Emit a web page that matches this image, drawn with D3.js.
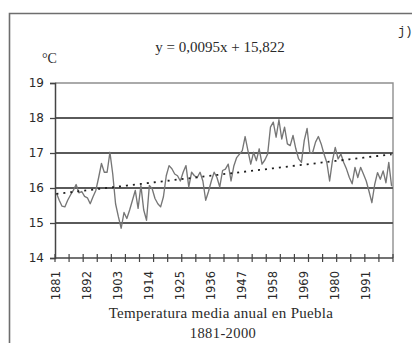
<!DOCTYPE html>
<html>
<head>
<meta charset="utf-8">
<script src="https://cdn.jsdelivr.net/npm/d3@7"></script>
<style>
  html, body { margin: 0; padding: 0; background: #fff; }
  svg { display: block; }
</style>
</head>
<body>
<svg id="chart" width="412" height="343"></svg>
<script>
// Annual mean temperature in Puebla, 1881-2000 (°C)
const years = d3.range(1881, 2001);
const temps = [
  15.86, 15.65, 15.48, 15.46, 15.65, 15.80, 15.93, 16.10, 15.86, 15.90,
  15.76, 15.72, 15.55, 15.75, 15.93, 16.30, 16.70, 16.45, 16.45, 17.02,
  16.40, 15.55, 15.18, 14.85, 15.30, 15.13, 15.37, 15.65, 15.93, 15.42,
  16.07, 15.37, 15.08, 16.07, 15.98, 15.70, 15.55, 15.46, 15.75, 16.35,
  16.64, 16.55, 16.40, 16.35, 16.20, 16.45, 16.64, 16.03, 16.45, 16.35,
  16.30, 16.45, 16.20, 15.65, 15.90, 16.20, 16.45, 16.30, 16.03, 16.50,
  16.54, 16.68, 16.20, 16.63, 16.87, 16.97, 17.07, 17.47, 17.07, 16.68,
  17.02, 16.78, 17.12, 16.68, 16.80, 16.97, 17.74, 17.88, 17.45, 17.95,
  17.40, 17.74, 17.26, 17.21, 17.50, 17.12, 16.83, 16.73, 17.36, 17.70,
  16.99, 17.02, 17.31, 17.47, 17.26, 16.97, 16.73, 16.20, 16.78, 17.16,
  16.83, 16.97, 16.73, 16.54, 16.30, 16.12, 16.59, 16.30, 16.59, 16.40,
  16.20, 15.90, 15.58, 16.10, 16.44, 16.25, 16.49, 16.15, 16.73, 16.05
];
const yTicks = [14, 15, 16, 17, 18, 19];
const yearLabels = years.filter((y, i) => i % 11 === 0 && y <= 1991);
// Linear trend as reported: y = 0,0095x + 15,822 (x = 1 for 1881)
const trendSlope = 0.0095;
const trendIntercept = 15.822;

const svg = d3.select("#chart");
const plot = { left: 55, right: 393, top: 83, bottom: 258 };

const x = d3.scaleBand().domain(years).range([plot.left, plot.right]).padding(0);
const y = d3.scaleLinear().domain([14, 19]).range([plot.bottom, plot.top]);
const cx = yr => x(yr) + x.bandwidth() / 2;

// outer frame (runs past the right and bottom edges)
svg.append("path")
  .attr("d", "M9.5,420 V13.5 H430")
  .attr("fill", "none").attr("stroke", "#6e6e6e").attr("stroke-width", 1.6);

// top and right plot border
svg.append("path")
  .attr("d", `M${plot.left},${y(19)} H${plot.right} V${plot.bottom}`)
  .attr("fill", "none").attr("stroke", "#8f8f8f").attr("stroke-width", 1.4);

// horizontal gridlines
svg.append("g").selectAll("line")
  .data(yTicks.filter(t => t > 14 && t < 19))
  .join("line")
  .attr("x1", plot.left).attr("x2", plot.right)
  .attr("y1", d => y(d)).attr("y2", d => y(d))
  .attr("stroke", "#5a5a5a").attr("stroke-width", 1.9);

// y axis
const yAxis = svg.append("g")
  .attr("transform", `translate(${plot.left},0)`)
  .call(d3.axisLeft(y).tickValues(yTicks).tickSize(5).tickPadding(6).tickFormat(d3.format("d")));
yAxis.select(".domain").attr("stroke", "#444").attr("stroke-width", 1.5);
yAxis.selectAll(".tick line").attr("stroke", "#444").attr("stroke-width", 1.3);
yAxis.selectAll("text")
  .attr("font-family", "DejaVu Sans, sans-serif").attr("font-size", 12).attr("fill", "#2a2a2a");

// x axis: crossing ticks every five years, labels every eleven years
const bw = x.bandwidth();
const tickXs = d3.range(0, 25).map(k => plot.left + k * 5 * bw);
svg.append("line")
  .attr("x1", plot.left).attr("x2", plot.right)
  .attr("y1", plot.bottom).attr("y2", plot.bottom)
  .attr("stroke", "#444").attr("stroke-width", 1.6);
svg.append("g").selectAll("line")
  .data(tickXs)
  .join("line")
  .attr("x1", d => d).attr("x2", d => d)
  .attr("y1", plot.bottom - 4).attr("y2", plot.bottom + 4)
  .attr("stroke", "#444").attr("stroke-width", 1.2);
svg.append("g").selectAll("text")
  .data(yearLabels)
  .join("text")
  .attr("transform", d => `translate(${cx(d) + 4},${plot.bottom + 13}) rotate(-90)`)
  .attr("text-anchor", "end")
  .attr("font-family", "DejaVu Sans, sans-serif").attr("font-size", 11.5).attr("fill", "#2a2a2a")
  .text(d => d);

// temperature series
const line = d3.line().x((d, i) => cx(years[i])).y(d => y(d));
svg.append("path")
  .datum(temps)
  .attr("d", line)
  .attr("fill", "none").attr("stroke", "#767676").attr("stroke-width", 1.35)
  .attr("stroke-linejoin", "round");

// dotted trend line
const trend = years.map((yr, i) => trendSlope * (i + 1) + trendIntercept);
svg.append("path")
  .datum(trend)
  .attr("d", line)
  .attr("fill", "none").attr("stroke", "#1e1e1e").attr("stroke-width", 1.8)
  .attr("stroke-dasharray", "2,5");

// texts
svg.append("text")
  .attr("x", 220).attr("y", 52).attr("text-anchor", "middle")
  .attr("font-family", "Liberation Serif, serif").attr("font-size", 15).attr("fill", "#2a2a2a")
  .text("y = 0,0095x + 15,822");
svg.append("text")
  .attr("x", 42).attr("y", 63)
  .attr("font-family", "Liberation Serif, serif").attr("font-size", 14).attr("fill", "#2a2a2a")
  .text("°C");
svg.append("text")
  .attr("x", 398).attr("y", 35)
  .attr("font-family", "Liberation Mono, monospace").attr("font-size", 12).attr("fill", "#2a2a2a")
  .text("j)");
svg.append("text")
  .attr("x", 221).attr("y", 318).attr("text-anchor", "middle")
  .attr("font-family", "Liberation Serif, serif").attr("font-size", 15).attr("fill", "#2a2a2a")
  .attr("letter-spacing", 0.3)
  .text("Temperatura media anual en Puebla");
svg.append("text")
  .attr("x", 223).attr("y", 338).attr("text-anchor", "middle")
  .attr("font-family", "Liberation Serif, serif").attr("font-size", 14.5).attr("fill", "#2a2a2a")
  .attr("letter-spacing", 0.4)
  .text("1881-2000");
</script>
</body>
</html>
